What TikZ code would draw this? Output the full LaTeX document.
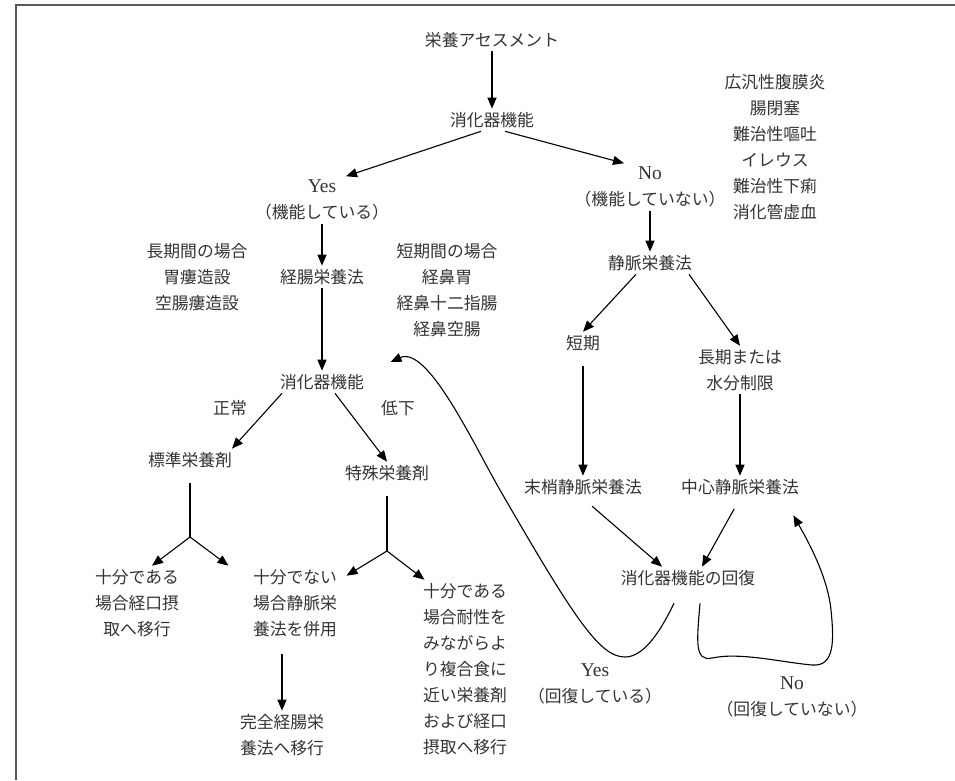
\documentclass[tikz,border=0pt]{standalone}
\usepackage{fontspec}
\setmainfont{Liberation Serif}
\newfontfamily\jfont{Noto Sans CJK JP}
\newcommand\lat[1]{{\rmfamily\fontsize{19.5}{26}\selectfont #1}}
\usetikzlibrary{arrows.meta}

\begin{document}
\begin{tikzpicture}[x=1pt,y=-1pt,>={Triangle[length=11pt,width=9pt]},line width=1.1pt,
  every node/.style={font=\jfont\fontsize{16.8}{26}\selectfont,text=black!80,inner sep=3pt,align=center}]
\useasboundingbox (0,0) rectangle (955,780);
\draw[black!65,line width=1.6pt] (16,780) -- (16,5) -- (955,5);

\node (assess) at (492,40) {栄養アセスメント};
\node (gi) at (492,120) {消化器機能};
\node (yes) at (322,200) {\lat{Yes}\\（機能している）};
\node (no) at (650,187) {\lat{No}\\（機能していない）};
\node (dis) at (775,147) {広汎性腹膜炎\\腸閉塞\\難治性嘔吐\\イレウス\\難治性下痢\\消化管虚血};

\node (en) at (322,277) {経腸栄養法};
\node (lng) at (197,277) {長期間の場合\\胃瘻造設\\空腸瘻造設};
\node (sht) at (447,290) {短期間の場合\\経鼻胃\\経鼻十二指腸\\経鼻空腸};
\node (pn) at (650,263) {静脈栄養法};

\node (gi2) at (322,382) {消化器機能};
\node (nrm) at (230,408) {正常};
\node (low) at (398,408) {低下};
\node (std) at (190,460) {標準栄養剤};
\node (spc) at (387,473) {特殊栄養剤};
\node (suf1) at (137,603) {十分である\\場合経口摂\\取へ移行};
\node (insuf) at (295,603) {十分でない\\場合静脈栄\\養法を併用};
\node (full) at (282,735) {完全経腸栄\\養法へ移行};
\node (suf2) at (465,669) {十分である\\場合耐性を\\みながらよ\\り複合食に\\近い栄養剤\\および経口\\摂取へ移行};

\node (short) at (583,343) {短期};
\node (long) at (740,370) {長期または\\水分制限};
\node (ppn) at (583,487) {末梢静脈栄養法};
\node (tpn) at (740,487) {中心静脈栄養法};
\node (rec) at (688,578) {消化器機能の回復};
\node (yes2) at (595,684) {\lat{Yes}\\（回復している）};
\node (no2) at (792,697) {\lat{No}\\（回復していない）};

\coordinate (f1) at (190,537);
\coordinate (f2) at (387,551);

\draw[->] (assess) -- (gi);
\draw[->] ([xshift=-11pt]gi.south) -- ([xshift=24pt]yes.north);
\draw[->] ([xshift=13pt]gi.south) -- ([xshift=-26pt]no.north);
\draw[->] (yes) -- (en);
\draw[->] (no) -- (pn);
\draw[->] (en) -- (gi2);
\draw[->] ([xshift=-40pt]gi2.south) -- ([xshift=42pt]std.north);
\draw[->] ([xshift=13pt]gi2.south) -- (spc.north);

\draw[shorten <=12pt] (std) -- (f1);
\draw[->] (f1) -- ([xshift=15pt]suf1.north);
\draw[->] (f1) -- ([xshift=-21pt]insuf.north west);
\draw[shorten <=12pt] (spc) -- (f2);
\draw[->] (f2) -- ([xshift=6pt,yshift=-10pt]insuf.north east);
\draw[->] (f2) -- ([xshift=5pt]suf2.north west);
\draw[->,shorten <=14pt] ([xshift=-13pt]insuf.south) -- (full.north);

\draw[->] ([xshift=-14pt]pn.south) -- (short.north);
\draw[->] ([xshift=39pt]pn.south) -- (long.north);
\draw[->,shorten <=12pt] (short) -- (ppn);
\draw[->] (long) -- (tpn);
\draw[->,shorten <=12pt] (ppn.south) -- ([xshift=-26pt]rec.north);
\draw[->,shorten <=12pt] (tpn.south) -- ([xshift=14pt]rec.north);

\draw[->] ([xshift=-14pt,yshift=-14pt]rec.south) .. controls (662,628) and (645,657) .. (625,657)
  .. controls (600,657) and (575,620) .. (500,490)
  .. controls (475,447) and (428,345) .. ([xshift=23pt,yshift=20pt]gi2.east);
\draw[->] ([xshift=12pt,yshift=-14pt]rec.south) .. controls (697,640) and (694,662) .. (712,658)
  .. controls (740,652) and (780,662) .. (812,665)
  .. controls (835,667) and (834,640) .. (831,610)
  .. controls (828,580) and (812,548) .. ([xshift=-9pt,yshift=-17pt]tpn.south east);
\end{tikzpicture}
\end{document}
